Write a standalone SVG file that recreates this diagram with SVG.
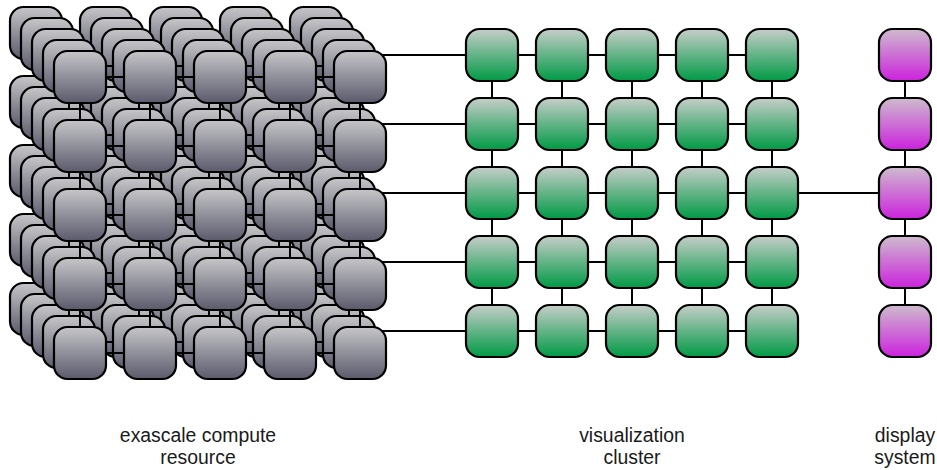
<svg xmlns="http://www.w3.org/2000/svg" xmlns:xlink="http://www.w3.org/1999/xlink" width="937" height="470" viewBox="0 0 937 470">
<style>
.lk{fill:none;stroke:#000;stroke-width:2}
.lbl{font-family:"Liberation Sans",Arial,sans-serif;font-size:19.4px;fill:#1a1a1a;text-anchor:middle}
</style>
<defs>
<linearGradient id="gg" x1="0" y1="0" x2="0" y2="1"><stop offset="0" stop-color="#c6c6c9"/><stop offset="1" stop-color="#5a5a6c"/></linearGradient>
<linearGradient id="gn" x1="0" y1="0" x2="0" y2="1"><stop offset="0" stop-color="#c6cdc9"/><stop offset="1" stop-color="#009a45"/></linearGradient>
<linearGradient id="gm" x1="0" y1="0" x2="0" y2="1"><stop offset="0" stop-color="#cdbccd"/><stop offset="1" stop-color="#cc22dd"/></linearGradient>
<rect id="gbox" width="52" height="52" rx="13.5" fill="url(#gg)" stroke="#000" stroke-width="2.2"/>
<rect id="nbox" width="52" height="52" rx="13.5" fill="url(#gn)" stroke="#000" stroke-width="2.2"/>
<rect id="mbox" width="52" height="52" rx="13.5" fill="url(#gm)" stroke="#000" stroke-width="2.2"/>
</defs>
<rect width="937" height="470" fill="#fff"/>

<!-- compute layer 0 (back) -->
<g id="links-l0" class="lk"><path d="M36 33H316M36 102H316M36 171H316M36 240H316M36 309H316M36 33V309M106 33V309M176 33V309M246 33V309M316 33V309"/></g>
<g id="layer0">
<g id="c0-0-0"><use xlink:href="#gbox" x="10" y="7"/></g><g id="c0-0-1"><use xlink:href="#gbox" x="80" y="7"/></g><g id="c0-0-2"><use xlink:href="#gbox" x="150" y="7"/></g><g id="c0-0-3"><use xlink:href="#gbox" x="220" y="7"/></g><g id="c0-0-4"><use xlink:href="#gbox" x="290" y="7"/></g>
<g id="c0-1-0"><use xlink:href="#gbox" x="10" y="76"/></g><g id="c0-1-1"><use xlink:href="#gbox" x="80" y="76"/></g><g id="c0-1-2"><use xlink:href="#gbox" x="150" y="76"/></g><g id="c0-1-3"><use xlink:href="#gbox" x="220" y="76"/></g><g id="c0-1-4"><use xlink:href="#gbox" x="290" y="76"/></g>
<g id="c0-2-0"><use xlink:href="#gbox" x="10" y="145"/></g><g id="c0-2-1"><use xlink:href="#gbox" x="80" y="145"/></g><g id="c0-2-2"><use xlink:href="#gbox" x="150" y="145"/></g><g id="c0-2-3"><use xlink:href="#gbox" x="220" y="145"/></g><g id="c0-2-4"><use xlink:href="#gbox" x="290" y="145"/></g>
<g id="c0-3-0"><use xlink:href="#gbox" x="10" y="214"/></g><g id="c0-3-1"><use xlink:href="#gbox" x="80" y="214"/></g><g id="c0-3-2"><use xlink:href="#gbox" x="150" y="214"/></g><g id="c0-3-3"><use xlink:href="#gbox" x="220" y="214"/></g><g id="c0-3-4"><use xlink:href="#gbox" x="290" y="214"/></g>
<g id="c0-4-0"><use xlink:href="#gbox" x="10" y="283"/></g><g id="c0-4-1"><use xlink:href="#gbox" x="80" y="283"/></g><g id="c0-4-2"><use xlink:href="#gbox" x="150" y="283"/></g><g id="c0-4-3"><use xlink:href="#gbox" x="220" y="283"/></g><g id="c0-4-4"><use xlink:href="#gbox" x="290" y="283"/></g>
</g>

<!-- layer 1 -->
<g id="links-l1" class="lk"><path d="M47 44H327M47 113H327M47 182H327M47 251H327M47 320H327M47 44V320M117 44V320M187 44V320M257 44V320M327 44V320"/></g>
<g id="layer1">
<g id="c1-0-0"><use xlink:href="#gbox" x="21" y="18"/></g><g id="c1-0-1"><use xlink:href="#gbox" x="91" y="18"/></g><g id="c1-0-2"><use xlink:href="#gbox" x="161" y="18"/></g><g id="c1-0-3"><use xlink:href="#gbox" x="231" y="18"/></g><g id="c1-0-4"><use xlink:href="#gbox" x="301" y="18"/></g>
<g id="c1-1-0"><use xlink:href="#gbox" x="21" y="87"/></g><g id="c1-1-1"><use xlink:href="#gbox" x="91" y="87"/></g><g id="c1-1-2"><use xlink:href="#gbox" x="161" y="87"/></g><g id="c1-1-3"><use xlink:href="#gbox" x="231" y="87"/></g><g id="c1-1-4"><use xlink:href="#gbox" x="301" y="87"/></g>
<g id="c1-2-0"><use xlink:href="#gbox" x="21" y="156"/></g><g id="c1-2-1"><use xlink:href="#gbox" x="91" y="156"/></g><g id="c1-2-2"><use xlink:href="#gbox" x="161" y="156"/></g><g id="c1-2-3"><use xlink:href="#gbox" x="231" y="156"/></g><g id="c1-2-4"><use xlink:href="#gbox" x="301" y="156"/></g>
<g id="c1-3-0"><use xlink:href="#gbox" x="21" y="225"/></g><g id="c1-3-1"><use xlink:href="#gbox" x="91" y="225"/></g><g id="c1-3-2"><use xlink:href="#gbox" x="161" y="225"/></g><g id="c1-3-3"><use xlink:href="#gbox" x="231" y="225"/></g><g id="c1-3-4"><use xlink:href="#gbox" x="301" y="225"/></g>
<g id="c1-4-0"><use xlink:href="#gbox" x="21" y="294"/></g><g id="c1-4-1"><use xlink:href="#gbox" x="91" y="294"/></g><g id="c1-4-2"><use xlink:href="#gbox" x="161" y="294"/></g><g id="c1-4-3"><use xlink:href="#gbox" x="231" y="294"/></g><g id="c1-4-4"><use xlink:href="#gbox" x="301" y="294"/></g>
</g>

<!-- layer 2 (with links out to the visualization cluster) -->
<g id="links-l2" class="lk"><path d="M58 55H338M58 124H338M58 193H338M58 262H338M58 331H338M58 55V331M128 55V331M198 55V331M268 55V331M338 55V331"/>
<path d="M338 55H466M338 124H466M338 193H466M338 262H466M338 331H466"/></g>
<g id="layer2">
<g id="c2-0-0"><use xlink:href="#gbox" x="32" y="29"/></g><g id="c2-0-1"><use xlink:href="#gbox" x="102" y="29"/></g><g id="c2-0-2"><use xlink:href="#gbox" x="172" y="29"/></g><g id="c2-0-3"><use xlink:href="#gbox" x="242" y="29"/></g><g id="c2-0-4"><use xlink:href="#gbox" x="312" y="29"/></g>
<g id="c2-1-0"><use xlink:href="#gbox" x="32" y="98"/></g><g id="c2-1-1"><use xlink:href="#gbox" x="102" y="98"/></g><g id="c2-1-2"><use xlink:href="#gbox" x="172" y="98"/></g><g id="c2-1-3"><use xlink:href="#gbox" x="242" y="98"/></g><g id="c2-1-4"><use xlink:href="#gbox" x="312" y="98"/></g>
<g id="c2-2-0"><use xlink:href="#gbox" x="32" y="167"/></g><g id="c2-2-1"><use xlink:href="#gbox" x="102" y="167"/></g><g id="c2-2-2"><use xlink:href="#gbox" x="172" y="167"/></g><g id="c2-2-3"><use xlink:href="#gbox" x="242" y="167"/></g><g id="c2-2-4"><use xlink:href="#gbox" x="312" y="167"/></g>
<g id="c2-3-0"><use xlink:href="#gbox" x="32" y="236"/></g><g id="c2-3-1"><use xlink:href="#gbox" x="102" y="236"/></g><g id="c2-3-2"><use xlink:href="#gbox" x="172" y="236"/></g><g id="c2-3-3"><use xlink:href="#gbox" x="242" y="236"/></g><g id="c2-3-4"><use xlink:href="#gbox" x="312" y="236"/></g>
<g id="c2-4-0"><use xlink:href="#gbox" x="32" y="305"/></g><g id="c2-4-1"><use xlink:href="#gbox" x="102" y="305"/></g><g id="c2-4-2"><use xlink:href="#gbox" x="172" y="305"/></g><g id="c2-4-3"><use xlink:href="#gbox" x="242" y="305"/></g><g id="c2-4-4"><use xlink:href="#gbox" x="312" y="305"/></g>
</g>

<!-- layer 3 -->
<g id="links-l3" class="lk"><path d="M69 66H349M69 135H349M69 204H349M69 273H349M69 342H349M69 66V342M139 66V342M209 66V342M279 66V342M349 66V342"/></g>
<g id="layer3">
<g id="c3-0-0"><use xlink:href="#gbox" x="43" y="40"/></g><g id="c3-0-1"><use xlink:href="#gbox" x="113" y="40"/></g><g id="c3-0-2"><use xlink:href="#gbox" x="183" y="40"/></g><g id="c3-0-3"><use xlink:href="#gbox" x="253" y="40"/></g><g id="c3-0-4"><use xlink:href="#gbox" x="323" y="40"/></g>
<g id="c3-1-0"><use xlink:href="#gbox" x="43" y="109"/></g><g id="c3-1-1"><use xlink:href="#gbox" x="113" y="109"/></g><g id="c3-1-2"><use xlink:href="#gbox" x="183" y="109"/></g><g id="c3-1-3"><use xlink:href="#gbox" x="253" y="109"/></g><g id="c3-1-4"><use xlink:href="#gbox" x="323" y="109"/></g>
<g id="c3-2-0"><use xlink:href="#gbox" x="43" y="178"/></g><g id="c3-2-1"><use xlink:href="#gbox" x="113" y="178"/></g><g id="c3-2-2"><use xlink:href="#gbox" x="183" y="178"/></g><g id="c3-2-3"><use xlink:href="#gbox" x="253" y="178"/></g><g id="c3-2-4"><use xlink:href="#gbox" x="323" y="178"/></g>
<g id="c3-3-0"><use xlink:href="#gbox" x="43" y="247"/></g><g id="c3-3-1"><use xlink:href="#gbox" x="113" y="247"/></g><g id="c3-3-2"><use xlink:href="#gbox" x="183" y="247"/></g><g id="c3-3-3"><use xlink:href="#gbox" x="253" y="247"/></g><g id="c3-3-4"><use xlink:href="#gbox" x="323" y="247"/></g>
<g id="c3-4-0"><use xlink:href="#gbox" x="43" y="316"/></g><g id="c3-4-1"><use xlink:href="#gbox" x="113" y="316"/></g><g id="c3-4-2"><use xlink:href="#gbox" x="183" y="316"/></g><g id="c3-4-3"><use xlink:href="#gbox" x="253" y="316"/></g><g id="c3-4-4"><use xlink:href="#gbox" x="323" y="316"/></g>
</g>

<!-- layer 4 (front) -->
<g id="links-l4" class="lk"><path d="M80 77H360M80 146H360M80 215H360M80 284H360M80 353H360M80 77V353M150 77V353M220 77V353M290 77V353M360 77V353"/></g>
<g id="layer4">
<g id="c4-0-0"><use xlink:href="#gbox" x="54" y="51"/></g><g id="c4-0-1"><use xlink:href="#gbox" x="124" y="51"/></g><g id="c4-0-2"><use xlink:href="#gbox" x="194" y="51"/></g><g id="c4-0-3"><use xlink:href="#gbox" x="264" y="51"/></g><g id="c4-0-4"><use xlink:href="#gbox" x="334" y="51"/></g>
<g id="c4-1-0"><use xlink:href="#gbox" x="54" y="120"/></g><g id="c4-1-1"><use xlink:href="#gbox" x="124" y="120"/></g><g id="c4-1-2"><use xlink:href="#gbox" x="194" y="120"/></g><g id="c4-1-3"><use xlink:href="#gbox" x="264" y="120"/></g><g id="c4-1-4"><use xlink:href="#gbox" x="334" y="120"/></g>
<g id="c4-2-0"><use xlink:href="#gbox" x="54" y="189"/></g><g id="c4-2-1"><use xlink:href="#gbox" x="124" y="189"/></g><g id="c4-2-2"><use xlink:href="#gbox" x="194" y="189"/></g><g id="c4-2-3"><use xlink:href="#gbox" x="264" y="189"/></g><g id="c4-2-4"><use xlink:href="#gbox" x="334" y="189"/></g>
<g id="c4-3-0"><use xlink:href="#gbox" x="54" y="258"/></g><g id="c4-3-1"><use xlink:href="#gbox" x="124" y="258"/></g><g id="c4-3-2"><use xlink:href="#gbox" x="194" y="258"/></g><g id="c4-3-3"><use xlink:href="#gbox" x="264" y="258"/></g><g id="c4-3-4"><use xlink:href="#gbox" x="334" y="258"/></g>
<g id="c4-4-0"><use xlink:href="#gbox" x="54" y="327"/></g><g id="c4-4-1"><use xlink:href="#gbox" x="124" y="327"/></g><g id="c4-4-2"><use xlink:href="#gbox" x="194" y="327"/></g><g id="c4-4-3"><use xlink:href="#gbox" x="264" y="327"/></g><g id="c4-4-4"><use xlink:href="#gbox" x="334" y="327"/></g>
</g>

<!-- visualization cluster + display connectors -->
<g id="links-vis" class="lk"><path d="M492 55H772M492 124H772M492 193H772M492 262H772M492 331H772M492 55V331M562 55V331M632 55V331M702 55V331M772 55V331"/>
<path d="M772 193H905M905 55V331"/></g>

<g id="visualization">
<g id="v-0-0"><use xlink:href="#nbox" x="466" y="29"/></g><g id="v-0-1"><use xlink:href="#nbox" x="536" y="29"/></g><g id="v-0-2"><use xlink:href="#nbox" x="606" y="29"/></g><g id="v-0-3"><use xlink:href="#nbox" x="676" y="29"/></g><g id="v-0-4"><use xlink:href="#nbox" x="746" y="29"/></g>
<g id="v-1-0"><use xlink:href="#nbox" x="466" y="98"/></g><g id="v-1-1"><use xlink:href="#nbox" x="536" y="98"/></g><g id="v-1-2"><use xlink:href="#nbox" x="606" y="98"/></g><g id="v-1-3"><use xlink:href="#nbox" x="676" y="98"/></g><g id="v-1-4"><use xlink:href="#nbox" x="746" y="98"/></g>
<g id="v-2-0"><use xlink:href="#nbox" x="466" y="167"/></g><g id="v-2-1"><use xlink:href="#nbox" x="536" y="167"/></g><g id="v-2-2"><use xlink:href="#nbox" x="606" y="167"/></g><g id="v-2-3"><use xlink:href="#nbox" x="676" y="167"/></g><g id="v-2-4"><use xlink:href="#nbox" x="746" y="167"/></g>
<g id="v-3-0"><use xlink:href="#nbox" x="466" y="236"/></g><g id="v-3-1"><use xlink:href="#nbox" x="536" y="236"/></g><g id="v-3-2"><use xlink:href="#nbox" x="606" y="236"/></g><g id="v-3-3"><use xlink:href="#nbox" x="676" y="236"/></g><g id="v-3-4"><use xlink:href="#nbox" x="746" y="236"/></g>
<g id="v-4-0"><use xlink:href="#nbox" x="466" y="305"/></g><g id="v-4-1"><use xlink:href="#nbox" x="536" y="305"/></g><g id="v-4-2"><use xlink:href="#nbox" x="606" y="305"/></g><g id="v-4-3"><use xlink:href="#nbox" x="676" y="305"/></g><g id="v-4-4"><use xlink:href="#nbox" x="746" y="305"/></g>
</g>

<g id="display">
<g id="d-0"><use xlink:href="#mbox" x="879" y="29"/></g>
<g id="d-1"><use xlink:href="#mbox" x="879" y="98"/></g>
<g id="d-2"><use xlink:href="#mbox" x="879" y="167"/></g>
<g id="d-3"><use xlink:href="#mbox" x="879" y="236"/></g>
<g id="d-4"><use xlink:href="#mbox" x="879" y="305"/></g>
</g>

<g id="labels" class="lbl">
<text x="198" y="442">exascale compute</text>
<text x="198" y="464">resource</text>
<text x="632" y="442">visualization</text>
<text x="632" y="464">cluster</text>
<text x="905" y="442">display</text>
<text x="905" y="464">system</text>
</g>
</svg>
